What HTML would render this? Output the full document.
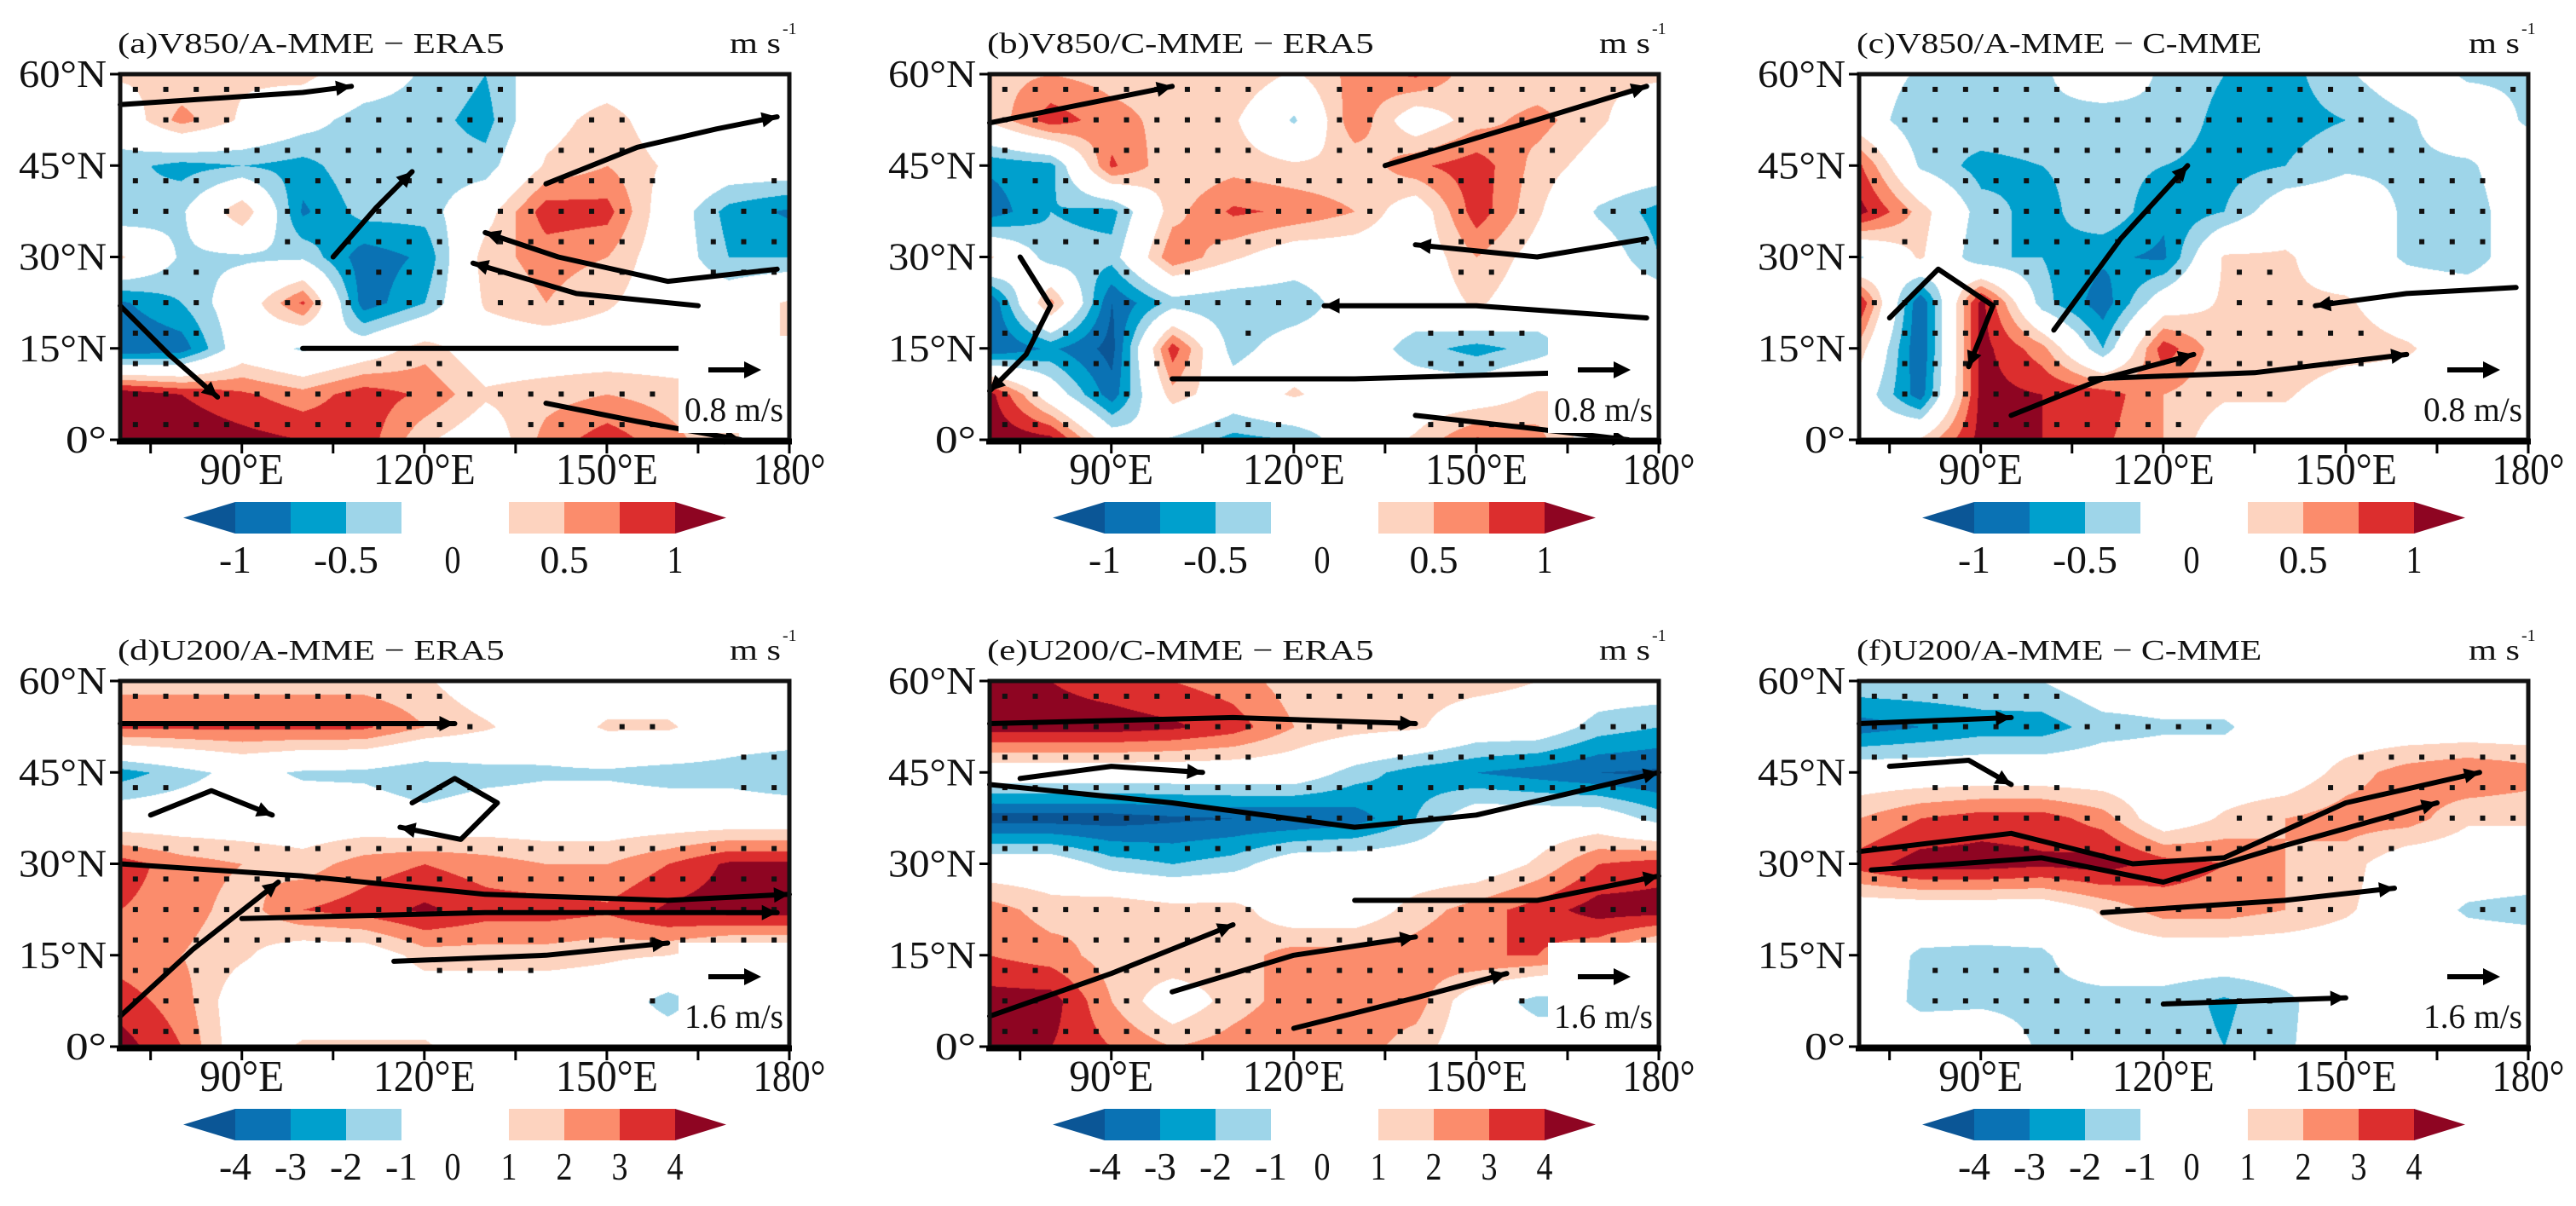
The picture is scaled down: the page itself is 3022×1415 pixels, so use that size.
<!DOCTYPE html>
<html><head><meta charset="utf-8">
<style>
html,body{margin:0;padding:0;background:#fff;}
#wrap{position:relative;width:3022px;height:1415px;overflow:hidden;background:#fff;}
canvas{position:absolute;}
svg{position:absolute;left:0;top:0;}
text{font-family:"Liberation Serif",serif;fill:#111;}
</style></head>
<body>
<div id="wrap">
<canvas id="cv0"></canvas>
<canvas id="cv1"></canvas>
<canvas id="cv2"></canvas>
<canvas id="cv3"></canvas>
<canvas id="cv4"></canvas>
<canvas id="cv5"></canvas>
<svg id="svg" width="3022" height="1415" xmlns="http://www.w3.org/2000/svg"></svg>
</div>
<script>
// ---- data: grid nodes ----
const lonNodes = [70,80,90,100,110,120,130,140,150,160,170,180];
const latNodes = [60,52.5,45,37.5,30,22.5,15,7.5,0];
// Panel (a) V850 A-MME - ERA5 (m/s)
const fieldA = [
 [0.3,0.3,0.3,0.35,0,-0.3,-0.5,0,0,0,0,0],
 [0,0.6,0.2,-0.1,-0.4,-0.4,-0.6,0.1,0.4,0,0,0],
 [-0.4,-0.6,-0.5,-0.6,-0.3,-0.4,-0.4,0.3,0.5,0.2,0,0],
 [-0.5,-0.3,0.5,-0.8,-0.4,-0.4,0.1,0.9,0.85,0,-0.6,-0.8],
 [0.3,-0.3,-0.3,-0.3,-0.9,-0.7,0.4,0.6,0.5,0,-0.5,-0.5],
 [-0.8,-0.5,0,0.8,-0.9,-0.5,0.3,0.5,0.3,0,0,0.3],
 [-1.0,-0.9,0,-0.3,0,0.4,0,0,0,0,0,0.3],
 [1.2,1.0,0.8,0.6,0.9,0.7,0.3,0.4,0.5,0.4,0.3,0],
 [1.2,1.2,1.1,1.0,0.9,0.3,0,0.6,0.9,0.6,0.3,0]
];
// Panel (b) V850 C-MME - ERA5
const fieldB = [
 [0.4,0.5,0.4,0.4,0.5,0.2,0.6,0.8,0.3,0.3,0.3,0.3],
 [0.3,0.9,0.6,0.4,0.3,-0.3,0.7,0,0.4,0.6,0.3,0],
 [-0.7,-0.6,0.8,0.3,0.4,0.3,0.3,0.7,0.9,0.4,0.1,0],
 [-0.9,-0.5,-0.6,0.4,0.8,0.7,0.5,0,0.9,0.3,-0.3,-0.6],
 [0.3,-0.4,-0.4,0.7,0.3,0,0,0,0.5,0.1,0,-0.5],
 [-1.0,0.6,-1.0,-0.4,-0.5,-0.5,0,0,0.3,0,0,0],
 [-1.0,-0.7,-1.1,0.9,-0.4,0,0,-0.4,-0.6,-0.4,0,0],
 [1.1,0,-0.9,0.4,0,0.3,0,0,0,0.3,0.3,0],
 [1.2,1.1,0,-0.3,-0.6,-0.5,0,0.3,0.8,0.6,0,0]
];
// Panel (c) V850 A-MME - C-MME
const fieldC = [
 [0,-0.3,-0.3,-0.3,0,-0.3,-0.5,-0.6,-0.3,0,-0.3,-0.3],
 [0,-0.5,-0.3,-0.3,-0.4,-0.3,-0.6,-0.6,-0.5,-0.3,0,-0.3],
 [0.8,-0.3,-0.6,-0.5,-0.4,-0.5,-0.6,-0.5,-0.3,-0.3,-0.3,0],
 [1.1,0.4,-0.4,-0.6,-0.3,-0.7,-0.5,0,0,-0.3,-0.4,0],
 [-0.3,0.3,-0.5,-0.5,-0.7,-0.8,0.3,0.3,0,-0.3,-0.4,0],
 [1.0,-1.0,1.1,-0.4,-0.9,0,0.3,0.3,0.3,0,0,0],
 [0.4,-1.0,1.1,0.6,-0.5,0.9,0.3,0.5,0.4,0.3,0,0],
 [0,-0.9,1.1,1.0,0.9,0.5,0.3,0.3,0,0,0,0],
 [0,0.3,1.1,1.0,0.8,0.5,0,0,0,0,0,0]
];
// Panel (d) U200 A-MME - ERA5
const fieldD = [
 [1.5,1.5,1.5,1.5,1.5,1.2,0,0,0,0,0,0],
 [3.2,3.2,3.2,3.2,3.2,2.0,1.2,0,1.2,1.2,0,0],
 [-2.5,-1.5,-0.5,-1.2,-1.3,-2.0,-1.5,-1.2,-1.2,-1.5,-1.5,-2.0],
 [0,0,0,0,0,-0.5,0,0,0,0,0,0],
 [3.5,2.5,2.0,1.5,2.5,3.0,2.5,2.0,2.0,3.0,4.2,4.2],
 [3.0,2.5,1.5,3.0,3.5,4.2,3.5,3.5,3.2,4.2,4.5,4.5],
 [2.5,2.0,1.2,0,0,1.5,1.5,1.5,1.2,1.0,0,0],
 [3.5,2.5,0,0,0,0,0,0,0,-1.5,0,0],
 [4.5,3.0,0,1.2,1.2,1.2,0,0,0,0,0,0]
];
// Panel (e) U200 C-MME - ERA5
const fieldE = [
 [4.0,4.0,3.5,3.0,2.5,1.5,1.5,1.5,1.5,1.0,0,0],
 [4.5,4.5,4.5,4.2,3.5,2.0,1.5,1.2,0,0,-1.5,-2.0],
 [0,0,0,0,0,0,-1.5,-2.5,-3.0,-3.5,-4.0,-4.2],
 [-4.5,-4.5,-4.5,-4.2,-4.0,-4.0,-3.5,-2.0,0,0,0,-1.5],
 [0,0,-1.5,-2.0,-1.5,0,0,0,0,1.2,3.0,3.5],
 [2.5,1.5,2.0,1.5,1.5,0,0,1.5,2.5,3.5,4.5,4.5],
 [3.0,2.5,1.5,2.0,1.5,2.5,2.5,2.5,3.0,3.0,2.0,0],
 [4.5,4.5,2.0,0,1.5,2.5,2.5,2.5,0,-1.5,-1.5,0],
 [4.5,4.0,3.0,2.0,2.5,3.0,2.5,1.5,0,0,0,0]
];
// Panel (f) U200 A-MME - C-MME
const fieldF = [
 [-1.2,-1.2,-1.2,-1.0,0,0,0,0,0,0,0,0],
 [-3.5,-3.0,-2.5,-2.5,-1.5,-1.2,-1.2,0,0,0,0,0],
 [0,0,0,0,0,0,0,0,1.5,2.5,3.0,2.5],
 [2.0,3.0,3.5,3.5,2.5,0,1.2,2.0,2.5,2.5,1.2,1.2],
 [3.5,4.5,4.5,4.2,4.5,3.5,3.0,2.0,1.5,0,0,0],
 [0,0,0,0,1.2,2.5,2.5,2.0,1.2,0,-1.2,-1.5],
 [0,-1.2,-1.3,-1.2,0,0,0,0,0,0,0,0],
 [0,-1.3,-1.2,-1.3,-1.5,-1.5,-2.2,-1.3,0,0,0,0],
 [0,0,0,-1.2,-1.3,-1.5,-2.0,-1.2,0,0,0,0]
];
// streamlines (lon, lat points)
const streamsA = [
 [[70,55],[85,56],[100,57],[108,58]],
 [[140,42],[155,48],[168,51],[178,53]],
 [[178,28],[160,26],[142,30],[130,34]],
 [[165,22],[145,24],[128,29]],
 [[100,15],[125,15],[150,15],[165,15]],
 [[70,22],[78,14],[86,7]],
 [[140,6],[155,3],[172,0]],
 [[105,30],[112,38],[118,44]]
];
const streamsB = [
 [[70,52],[85,55],[100,58]],
 [[135,45],[155,51],[178,58]],
 [[178,33],[160,30],[140,32]],
 [[178,20],[150,22],[125,22]],
 [[100,10],[130,10],[165,11]],
 [[140,4],[158,2],[175,0]],
 [[75,30],[80,22],[76,14],[70,8]]
];
const streamsC = [
 [[178,25],[160,24],[145,22]],
 [[108,10],[135,11],[160,14]],
 [[102,18],[113,33],[124,45]],
 [[75,20],[83,28],[92,22],[88,12]],
 [[95,4],[110,10],[125,14]]
];
const streamsD = [
 [[70,53],[100,53],[125,53]],
 [[70,30],[100,28],[130,25],[160,24],[180,25]],
 [[90,21],[130,22],[178,22]],
 [[70,5],[82,16],[96,27]],
 [[115,14],[140,15],[160,17]],
 [[118,40],[125,44],[132,40],[126,34],[116,36]],
 [[75,38],[85,42],[95,38]]
];
const streamsE = [
 [[70,53],[110,54],[140,53]],
 [[70,43],[100,40],[130,36],[150,38],[180,45]],
 [[130,24],[160,24],[180,28]],
 [[70,5],[90,12],[110,20]],
 [[100,9],[120,15],[140,18]],
 [[120,3],[140,8],[155,12]],
 [[75,44],[90,46],[105,45]]
];
const streamsF = [
 [[70,53],[95,54]],
 [[70,32],[95,35],[115,30],[130,31],[150,40],[172,45]],
 [[72,29],[100,31],[120,27],[140,33],[165,40]],
 [[110,22],[140,24],[158,26]],
 [[120,7],[150,8]],
 [[75,46],[88,47],[95,43]]
];
const cbLabelsV = ["-1","-0.5","0","0.5","1"];
const cbLabelsU = ["-4","-3","-2","-1","0","1","2","3","4"];
const latTicks = ["60°N","45°N","30°N","15°N","0°"];
const latTickVals = [60,45,30,15,0];
const lonTicks = ["90°E","120°E","150°E","180°"];
const lonTickVals = [90,120,150,180];

// ---- config ----
const panels = [
 {field:fieldA, streams:streamsA, title:"(a)V850/A-MME \u2212  ERA5", scale:0.25, ref:"0.8 m/s", kind:"V", left:141, top:87},
 {field:fieldB, streams:streamsB, title:"(b)V850/C-MME \u2212  ERA5", scale:0.25, ref:"0.8 m/s", kind:"V", left:1161, top:87},
 {field:fieldC, streams:streamsC, title:"(c)V850/A-MME \u2212  C-MME", scale:0.25, ref:"0.8 m/s", kind:"V", left:2181, top:87},
 {field:fieldD, streams:streamsD, title:"(d)U200/A-MME \u2212  ERA5", scale:1, ref:"1.6 m/s", kind:"U", left:141, top:799},
 {field:fieldE, streams:streamsE, title:"(e)U200/C-MME \u2212  ERA5", scale:1, ref:"1.6 m/s", kind:"U", left:1161, top:799},
 {field:fieldF, streams:streamsF, title:"(f)U200/A-MME \u2212  C-MME", scale:1, ref:"1.6 m/s", kind:"U", left:2181, top:799}
];
const W = 785, H = 429;
const colsNeg = ["#0b5696","#0a72b4","#00a0cd","#9ed5e9"];
const colsPos = ["#fdd3bf","#fb8c6c","#dc2e2e","#8e0522"];
function rgb(h){return [parseInt(h.substr(1,2),16),parseInt(h.substr(3,2),16),parseInt(h.substr(5,2),16)];}
function colorFor(l){
  if(l<=-4) return colsNeg[0]; if(l<=-3) return colsNeg[1]; if(l<=-2) return colsNeg[2]; if(l<=-1) return colsNeg[3];
  if(l>=4) return colsPos[3]; if(l>=3) return colsPos[2]; if(l>=2) return colsPos[1]; if(l>=1) return colsPos[0];
  return null;
}
function sample(field, lon, lat){
  let gi=(lon-70)/10, gj=(60-lat)/7.5;
  gi=Math.max(0,Math.min(10.9999,gi)); gj=Math.max(0,Math.min(7.9999,gj));
  const i=Math.floor(gi), j=Math.floor(gj), fx=gi-i, fy=gj-j;
  const a=field[j][i], b=field[j][i+1], c=field[j+1][i], d=field[j+1][i+1];
  return (a*(1-fx)+b*fx)*(1-fy)+(c*(1-fx)+d*fx)*fy;
}
const xOf=(p,lon)=>p.left+(lon-70)/110*W;
const yOf=(p,lat)=>p.top+(60-lat)/60*H;

const svg=document.getElementById('svg');
const NS="http://www.w3.org/2000/svg";
function mk(tag,attrs,parent){const e=document.createElementNS(NS,tag);for(const k in attrs)e.setAttribute(k,attrs[k]);(parent||svg).appendChild(e);return e;}

panels.forEach((p,pi)=>{
  const cv=document.getElementById('cv'+pi);
  cv.width=W; cv.height=H; cv.style.left=p.left+'px'; cv.style.top=p.top+'px';
  const ctx=cv.getContext('2d'); const img=ctx.createImageData(W,H);
  const cache={};
  for(let y=0;y<H;y++){for(let x=0;x<W;x++){
    const lon=70+110*x/W, lat=60-60*y/H;
    const c=colorFor(sample(p.field,lon,lat)/p.scale);
    const k=(y*W+x)*4;
    if(c){const r=cache[c]||(cache[c]=rgb(c));img.data[k]=r[0];img.data[k+1]=r[1];img.data[k+2]=r[2];}
    else{img.data[k]=255;img.data[k+1]=255;img.data[k+2]=255;}
    img.data[k+3]=255;
  }}
  ctx.putImageData(img,0,0);
  const g=mk('g',{});  
  // stippling
  const sg=mk('g',{fill:'#111'},g);  
  for(let lat=57.5;lat>0;lat-=5){for(let lon=72.5;lon<180;lon+=5){
    if(Math.abs(sample(p.field,lon,lat)/p.scale)>=1){
      const d=mk('rect',{x:xOf(p,lon)-3,y:yOf(p,lat)-3,width:6,height:6},sg);
       
    }}}
  // streamlines
  p.streams.forEach(s=>{
    const pts=s.map(q=>xOf(p,q[0]).toFixed(1)+','+yOf(p,q[1]).toFixed(1)).join(' ');
    const l=mk('polyline',{points:pts,fill:'none',stroke:'#000','stroke-width':6,'stroke-linecap':'round','stroke-linejoin':'round'},g);
     
    const a=s[s.length-2], b=s[s.length-1];
    const x1=xOf(p,a[0]),y1=yOf(p,a[1]),x2=xOf(p,b[0]),y2=yOf(p,b[1]);
    const ang=Math.atan2(y2-y1,x2-x1), L=18, Wd=9;
    const hx=x2-L*Math.cos(ang), hy=y2-L*Math.sin(ang);
    const h=mk('polygon',{points:`${x2},${y2} ${hx+Wd*Math.sin(ang)},${hy-Wd*Math.cos(ang)} ${hx-Wd*Math.sin(ang)},${hy+Wd*Math.cos(ang)}`,fill:'#000'},g);
     
  });
  // reference vector box
  const bx=mk('rect',{x:p.left+655,y:p.top+H-122,width:130,height:114,fill:'#fff'},g);
   
  const ra=mk('line',{x1:p.left+690,y1:p.top+H-82,x2:p.left+735,y2:p.top+H-82,stroke:'#000','stroke-width':6},g);
   
  const rh=mk('polygon',{points:`${p.left+752},${p.top+H-82} ${p.left+732},${p.top+H-92} ${p.left+732},${p.top+H-72}`,fill:'#000'},g);
   
  const rt=mk('text',{x:p.left+662,y:p.top+H-22,'font-size':40,textLength:116,lengthAdjust:'spacingAndGlyphs'},g);
  rt.textContent=p.ref;  
  // frame
  const fr=mk('rect',{x:p.left,y:p.top,width:W,height:H,fill:'none',stroke:'#111','stroke-width':5},g);
   
  const bl=mk('line',{x1:p.left-4,y1:p.top+H+2,x2:p.left+W+3,y2:p.top+H+2,stroke:'#000','stroke-width':7},g);
   
  // title & units
  const tt=mk('text',{x:p.left-3,y:p.top-25,'font-size':34,textLength:p.title.length*21.6,lengthAdjust:'spacingAndGlyphs'},g);
  tt.textContent=p.title;  
  const ut=mk('text',{x:p.left+715,y:p.top-25,'font-size':34,textLength:60,lengthAdjust:'spacingAndGlyphs'},g);
  ut.textContent='m s';  
  const us=mk('text',{x:p.left+777,y:p.top-47,'font-size':20},g);
  us.textContent='-1';  
  // y ticks
  latTickVals.forEach((v,i)=>{
    const y=yOf(p,v);
    const tk=mk('line',{x1:p.left-12,y1:y,x2:p.left,y2:y,stroke:'#000','stroke-width':3},g);
     
    const t=mk('text',{x:p.left-16,y:y+15,'font-size':46,'text-anchor':'end',textLength:latTicks[i].length===2?48:103,lengthAdjust:'spacingAndGlyphs'},g);
    t.textContent=latTicks[i];  
  });
  // x ticks
  for(let lon=75;lon<=180;lon+=15){
    const x=xOf(p,lon);
    const tk=mk('line',{x1:x,y1:p.top+H,x2:x,y2:p.top+H+16,stroke:'#000','stroke-width':3},g);
     
  }
  lonTickVals.forEach((v,i)=>{
    const x=xOf(p,v);
    const w=lonTicks[i].length===4?(i==3?85:99):120;
    const t=mk('text',{x:x,y:p.top+H+52,'font-size':52,'text-anchor':'middle',textLength:w,lengthAdjust:'spacingAndGlyphs'},g);
    t.textContent=lonTicks[i];  
  });
  // colorbar
  const cb=mk('g',{},g);  
  const cy=p.top+H+73, ch=37, L=p.left;
  const n1=mk('polygon',{points:`${L+74},${cy+ch/2} ${L+135},${cy} ${L+135},${cy+ch}`,fill:colsNeg[0]},cb);
   
  [135,200,265].forEach((x0,i)=>{const r=mk('rect',{x:L+x0,y:cy,width:65,height:ch,fill:colsNeg[i+1]},cb);
     });
  [456,521,586].forEach((x0,i)=>{const r=mk('rect',{x:L+x0,y:cy,width:65,height:ch,fill:colsPos[i]},cb);
     });
  const p1=mk('polygon',{points:`${L+711},${cy+ch/2} ${L+651},${cy} ${L+651},${cy+ch}`,fill:colsPos[3]},cb);
   
  const labs=p.kind==='V'?cbLabelsV:cbLabelsU;
  const pos=p.kind==='V'?[135,265,390,521,651]:[135,200,265,330,390,456,521,586,651];
  labs.forEach((s,i)=>{
    const t=mk('text',{x:L+pos[i],y:cy+ch+46,'font-size':46,'text-anchor':'middle',textLength:s.length*19,lengthAdjust:'spacingAndGlyphs'},cb);
    t.textContent=s;  
  });
});
</script>
</body></html>
